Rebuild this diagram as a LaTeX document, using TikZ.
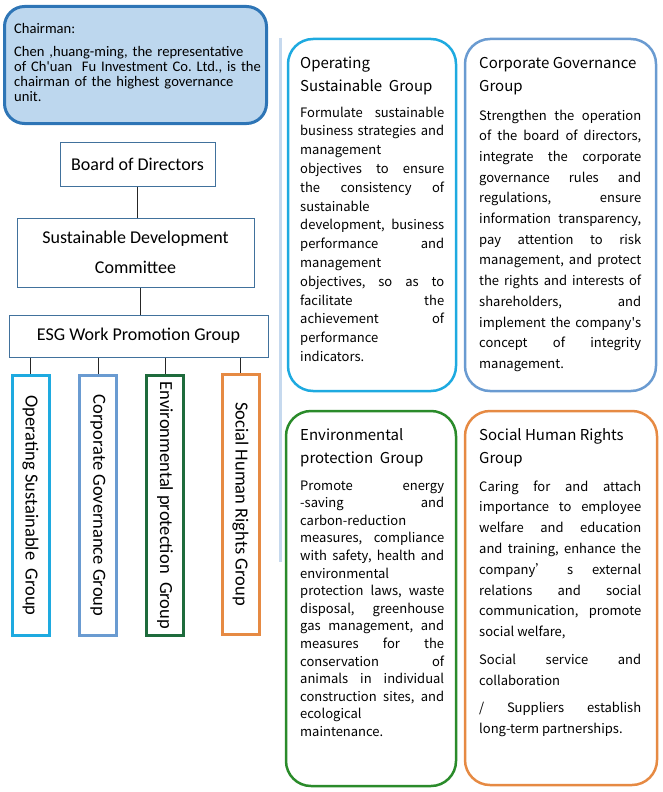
\documentclass[tikz,border=0pt]{standalone}
\usepackage{fontspec}
\setmainfont{Carlito}
\newfontfamily\cardfont{Noto Sans CJK TC}
\definecolor{chairfill}{HTML}{BDD7EE}
\definecolor{chairline}{HTML}{2E75B6}
\definecolor{orgline}{HTML}{41719C}
\definecolor{cyanline}{HTML}{1EAAE0}
\definecolor{steelline}{HTML}{6A9BD1}
\definecolor{dkgreen}{HTML}{1E6B3C}
\definecolor{cardgreen}{HTML}{2A8B2A}
\definecolor{orangeline}{HTML}{E68A43}
\definecolor{divider}{HTML}{C6D9EE}
\setlength{\parskip}{0pt}
\hyphenpenalty=10000
\exhyphenpenalty=10000
\tolerance=10000
\hbadness=10000
\frenchspacing

\begin{document}
\begin{tikzpicture}[x=1pt,y=-1pt,
		orgbox/.style={draw=orgline,line width=1pt,inner sep=0pt,align=center,font=\fontsize{18}{30}\selectfont},
		groupbar/.style={draw=#1,line width=3pt,rotate=-90,inner sep=0pt,minimum width=260,minimum height=37,font=\fontsize{18.5}{20}\selectfont},
		groupcard/.style={draw=#1,line width=2.5pt,rounded corners=25pt,outer sep=0pt,inner sep=0pt,anchor=north west},
		cardtext/.style={anchor=base west,inner sep=0pt,text width=#1,align=justify,font=\cardfont},
		link/.style={draw=black!85,line width=.8pt}]
		\useasboundingbox (0,0) rectangle (663,792);
		
		% left side: chairman and committees
		\node [draw=chairline,line width=3pt,fill=chairfill,rounded corners=20pt,minimum width=262,minimum height=117] (chair) at (135.5,65) {};
		\node [anchor=base west,inner sep=0pt,text width=262,align=left,font=\fontsize{14.6}{15}\selectfont] (chairtext) at (14,34)
			{Chairman:\par\vspace{8pt}Chen ,huang-ming, the representative\\of Ch\textquotesingle uan~ Fu Investment Co. Ltd., is the\\chairman of the highest governance\\unit.\par};
		\node [orgbox,minimum width=155,minimum height=44] (board) at (137.5,164) {Board of Directors};
		\node [orgbox,minimum width=237,minimum height=69] (sdc) at (135.5,252.5) {Sustainable Development\\Committee};
		\node [orgbox,minimum width=259,minimum height=42] (esg) at (138.5,336) {ESG Work Promotion Group};
		
		\node [groupbar=cyanline] (opbar) at (30.5,505.5) {Operating Sustainable~ Group};
		\node [groupbar=steelline] (cgbar) at (98,505.5) {Corporate Governance Group};
		\node [groupbar=dkgreen] (epbar) at (165,505.5) {Environmental protection~ Group};
		\node [groupbar=orangeline] (shbar) at (240.5,504) {Social Human Rights Group};
		
		\draw [link] (board.south) -- (board.south |- sdc.north);
		\draw [link] ([xshift=4.5pt]sdc.south) -- ([xshift=4.5pt]sdc.south |- esg.north);
		\foreach \bar in {opbar,cgbar,epbar,shbar}
			\draw [link] (esg.south -| \bar.center) -- (\bar.west);
		
		\draw [divider,line width=3pt] (280,38) -- (280,562);
		
		% right side: group cards
		\node [groupcard=cyanline,minimum width=168,minimum height=352] (opcard) at (288,39) {};
		\node [groupcard=steelline,minimum width=191,minimum height=352] (cgcard) at (465,39) {};
		\node [groupcard=cardgreen,minimum width=170,minimum height=375] (epcard) at (286,411) {};
		\node [groupcard=orangeline,minimum width=192,minimum height=374] (shcard) at (465,411) {};
		
		\node [cardtext=144] (optext) at (300,68)
			{{\fontsize{15}{24}\selectfont Operating\newline Sustainable~ Group\par}\vspace{6.2pt}\fontsize{13}{18.8}\selectfont
			Formulate sustainable\linebreak business strategies and\linebreak management\newline
			objectives to ensure\linebreak the consistency of\linebreak sustainable\newline
			development, business\linebreak performance and\linebreak management\newline
			objectives, so as to\linebreak facilitate the\linebreak achievement of\linebreak
			performance\newline indicators.\par};
		\node [cardtext=162] (cgtext) at (479,68)
			{{\fontsize{15}{24}\selectfont Corporate Governance\newline Group\par}\vspace{7.3pt}\fontsize{13}{20.7}\selectfont
			Strengthen the operation\linebreak of the board of directors,\linebreak integrate the corporate\linebreak
			governance rules and\linebreak regulations, ensure\linebreak information transparency,\linebreak
			pay attention to risk\linebreak management, and protect\linebreak the rights and interests of\linebreak
			shareholders, and\linebreak implement the company\textquotesingle s\linebreak concept of integrity\linebreak
			management.\par};
		\node [cardtext=144] (eptext) at (300,440)
			{{\fontsize{15}{23}\selectfont Environmental\newline protection~ Group\par}\vspace{9.4pt}\fontsize{13}{17.6}\selectfont
			Promote energy\linebreak -saving and\linebreak carbon-reduction\newline
			measures, compliance\linebreak with safety, health and\linebreak environmental\newline
			protection laws, waste\linebreak disposal, greenhouse\linebreak gas management, and\linebreak
			measures for the\linebreak conservation of\linebreak animals in individual\linebreak
			construction sites, and\linebreak ecological\newline maintenance.\par};
		\node [cardtext=162] (shtext) at (479,440)
			{{\fontsize{15}{23}\selectfont Social Human Rights\newline Group\par}\vspace{7.2pt}\fontsize{13}{20.8}\selectfont
			Caring for and attach\linebreak importance to employee\linebreak welfare and education\linebreak
			and training, enhance the\linebreak company’ s external\linebreak relations and social\linebreak
			communication, promote\linebreak social welfare,\par\vspace{7.2pt}
			Social service and\linebreak collaboration\par\vspace{6.2pt}
			/ Suppliers establish\linebreak long-term partnerships.\par};
\end{tikzpicture}
\end{document}
